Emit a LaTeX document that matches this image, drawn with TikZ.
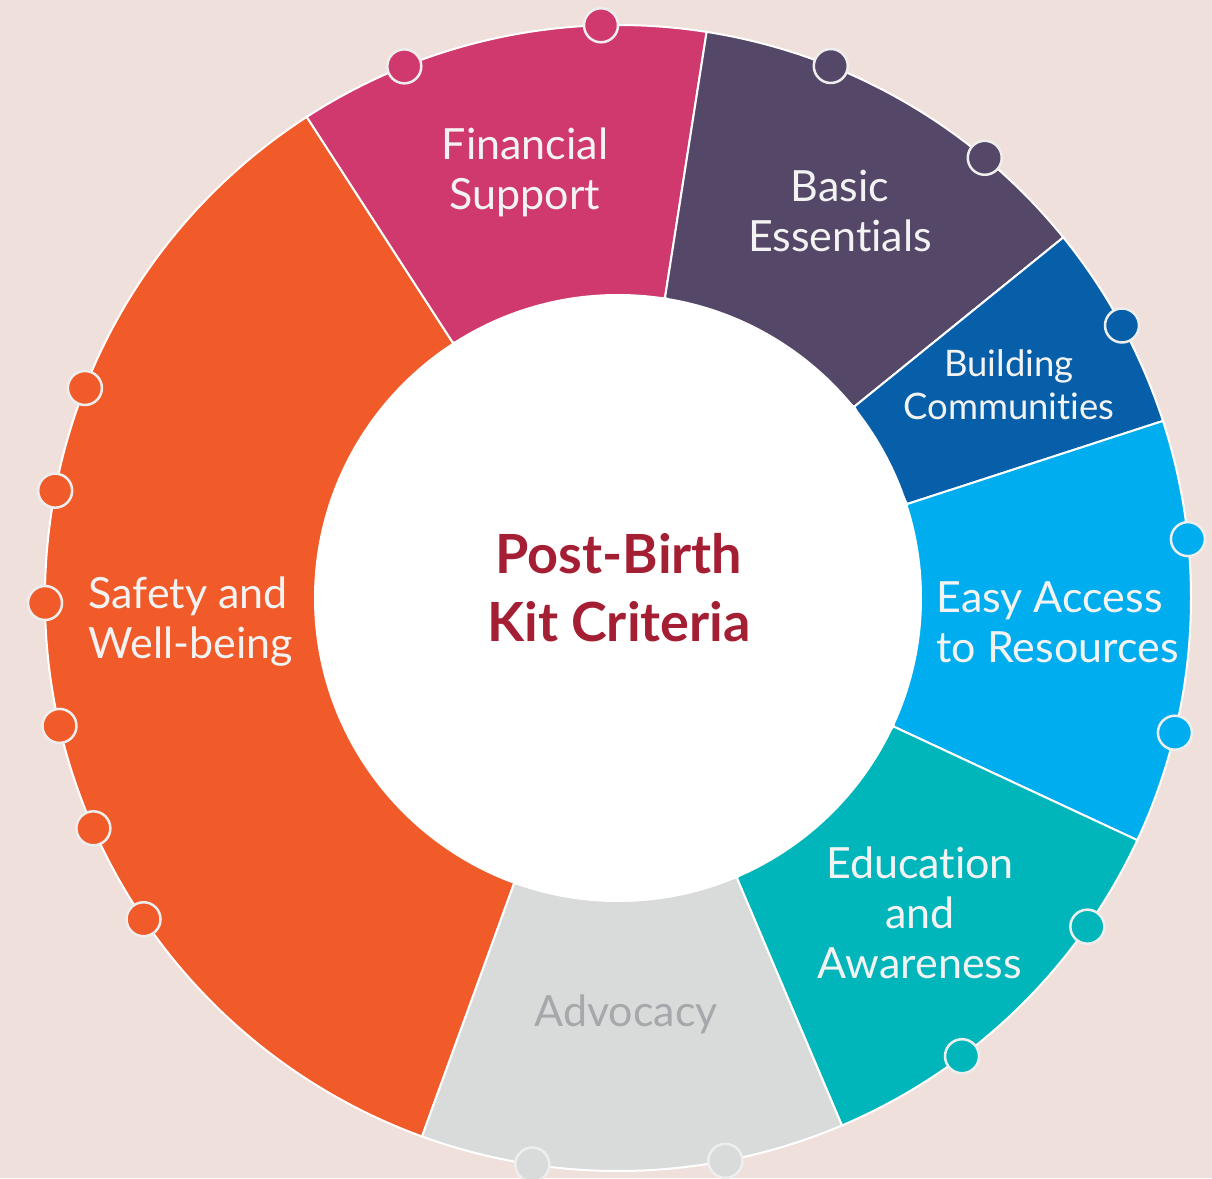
\documentclass[tikz,border=0pt]{standalone}
\usepackage{fontspec}
\setmainfont{Lato}[Ligatures=NoCommon]
\definecolor{bgpink}{HTML}{F0E0DC}
\definecolor{safety}{HTML}{F15A29}
\definecolor{finance}{HTML}{D0396D}
\definecolor{basics}{HTML}{554767}
\definecolor{community}{HTML}{065FA8}
\definecolor{access}{HTML}{00AEEF}
\definecolor{education}{HTML}{00B6BB}
\definecolor{advocacy}{HTML}{D9DADA}
\definecolor{advgrey}{HTML}{A6A8AB}
\definecolor{kitred}{HTML}{A51F34}
\definecolor{labelwhite}{HTML}{F3F3F3}
\definecolor{dotrim}{HTML}{EEEEEE}
\tikzset{seglabel/.style={text=labelwhite, align=center,
        font=\fontsize{43}{50}\selectfont},
    ringdot/.style={circle, draw=dotrim, line width=2.5pt,
        minimum size=34pt, inner sep=0pt}
}

\begin{document}
\begin{tikzpicture}[x=1pt,y=1pt]
      \fill[bgpink] (-618,-580) rectangle (594,598);
      \useasboundingbox (-618,-580) rectangle (594,598);
      \foreach \a/\b/\c in {122.9/250/safety, 81.1/122.9/finance, 39/81.1/basics,
          18/39/community, -25/18/access, -67/-25/education, -110/-67/advocacy}
        \filldraw[fill=\c, draw=white, line width=2pt] (\a:304pt) -- (\a:573pt)
          arc[start angle=\a, end angle=\b, radius=573pt] -- (\b:304pt) -- cycle;
      \fill[white] (0,0) circle[radius=304pt];
      \foreach \ang/\c [count=\i] in {111.9/finance, 91.7/finance, 68.2/basics,
          50.2/basics, 28.4/community, 5.9/access, -13.6/access, -35/education,
          -53.1/education, -98.6/advocacy, -79.2/advocacy, 158.5/safety,
          169.2/safety, 180.5/safety, 192.9/safety, 203.7/safety, 214.1/safety}
        \node[ringdot, fill=\c] (dot\i) at (\ang:573pt) {};
      \node[seglabel] (finance) at (-93,426) {Financial\\Support};
      \node[seglabel] (basics) at (222,387) {Basic\\Essentials};
      \node[seglabel, font=\fontsize{36.5}{43}\selectfont] (community) at (391,213) {Building\\Communities};
      \node[seglabel, align=left, anchor=west] (access) at (315,-24) {Easy Access\\to Resources};
      \node[seglabel] (education) at (302,-315) {Education\\and\\Awareness};
      \node[seglabel, text=advgrey] (advocacy) at (8,-416) {Advocacy};
      \node[seglabel, align=left, anchor=west] (safety) at (-533,-24) {Safety and\\Well-being};
      \node[font=\bfseries\fontsize{54}{68}\selectfont, text=kitred, align=center] (title) at (1,10) {Post-Birth\\Kit Criteria};
    \end{tikzpicture}
\end{document}
